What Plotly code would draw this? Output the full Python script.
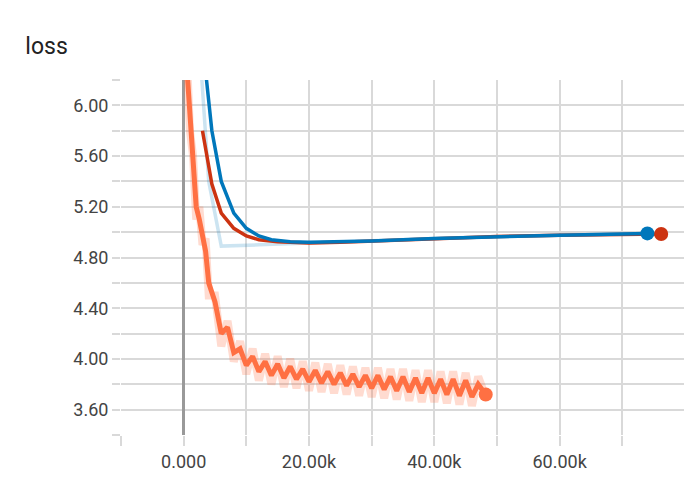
import plotly.graph_objects as go

# loss curves, steps in thousands
blue_x = [3, 4.5, 6, 8, 10, 12, 14, 17, 20, 25, 30, 40, 50, 60, 70, 74]
blue_y = [6.5, 5.8, 5.4, 5.15, 5.03, 4.97, 4.94, 4.925, 4.92, 4.925, 4.93, 4.95, 4.965, 4.975, 4.985, 4.99]
blue_raw_x = [2.5, 4, 6, 8, 12, 20, 25, 30, 40, 50, 60, 70, 74]
blue_raw_y = [6.5, 5.4, 4.89, 4.895, 4.90, 4.915, 4.925, 4.93, 4.95, 4.965, 4.975, 4.985, 4.99]

red_x = [3, 4.5, 6, 8, 10, 12, 15, 20, 25, 30, 40, 50, 60, 70, 76.2]
red_y = [5.8, 5.38, 5.15, 5.03, 4.97, 4.94, 4.925, 4.915, 4.92, 4.93, 4.95, 4.965, 4.975, 4.983, 4.985]

orange_x = [0.5, 1, 1.5, 2, 2.5, 3, 3.5, 4, 5, 6, 7, 8, 9, 10, 11, 12, 13, 14, 15, 16,
            17, 18, 19, 20, 21, 22, 23, 24, 25, 26, 27, 28, 29, 30, 31, 32, 33, 34, 35,
            36, 37, 38, 39, 40, 41, 42, 43, 44, 45, 46, 47, 48.2]
orange_y = [6.3, 5.9, 5.5, 5.2, 5.1, 4.95, 4.85, 4.6, 4.45, 4.2, 4.25, 4.05, 4.08, 3.95,
            4.02, 3.9, 3.98, 3.87, 3.96, 3.85, 3.94, 3.84, 3.92, 3.82, 3.91, 3.81, 3.90,
            3.80, 3.89, 3.79, 3.88, 3.78, 3.87, 3.77, 3.87, 3.76, 3.86, 3.75, 3.86, 3.74,
            3.85, 3.73, 3.85, 3.73, 3.84, 3.72, 3.84, 3.71, 3.83, 3.70, 3.80, 3.72]
orange_raw_y = [6.4, 5.8, 5.6, 5.1, 5.2, 4.9, 4.95, 4.5, 4.5, 4.1, 4.3, 3.98, 4.14, 3.88,
                4.08, 3.83, 4.04, 3.80, 4.02, 3.78, 4.0, 3.77, 3.98, 3.75, 3.97, 3.74, 3.96,
                3.73, 3.95, 3.72, 3.94, 3.71, 3.93, 3.70, 3.93, 3.69, 3.92, 3.68, 3.92, 3.67,
                3.91, 3.66, 3.91, 3.66, 3.90, 3.65, 3.90, 3.64, 3.89, 3.63, 3.86, 3.70]

fig = go.Figure()
fig.add_trace(go.Scatter(x=orange_x, y=orange_raw_y, mode="lines",
                         line=dict(color="rgba(255,112,67,0.25)", width=8)))
fig.add_trace(go.Scatter(x=orange_x, y=orange_y, mode="lines",
                         line=dict(color="#ff7043", width=5)))
fig.add_trace(go.Scatter(x=[orange_x[-1]], y=[orange_y[-1]], mode="markers",
                         marker=dict(color="#ff7043", size=14)))
fig.add_trace(go.Scatter(x=blue_raw_x, y=blue_raw_y, mode="lines",
                         line=dict(color="rgba(0,119,187,0.2)", width=3.5)))
fig.add_trace(go.Scatter(x=red_x, y=red_y, mode="lines",
                         line=dict(color="#cc3311", width=3.5)))
fig.add_trace(go.Scatter(x=[red_x[-1]], y=[red_y[-1]], mode="markers",
                         marker=dict(color="#cc3311", size=14)))
fig.add_trace(go.Scatter(x=blue_x, y=blue_y, mode="lines",
                         line=dict(color="#0077bb", width=3.5)))
fig.add_trace(go.Scatter(x=[blue_x[-1]], y=[blue_y[-1]], mode="markers",
                         marker=dict(color="#0077bb", size=14)))

grid = "#d9d9d9"
fig.update_layout(
    width=692, height=480, showlegend=False,
    paper_bgcolor="white", plot_bgcolor="white",
    margin=dict(l=113, r=15, t=72, b=53),
    font=dict(family="Roboto, Helvetica, Arial, sans-serif", color="#444", size=18),
    title=dict(text="loss", x=0.025, xanchor="left", y=0.92, yanchor="middle",
               font=dict(size=23, color="#222")),
    xaxis=dict(range=[-10, 80], tick0=0, dtick=10, showgrid=True, gridcolor=grid,
               gridwidth=1.5, zeroline=True, zerolinecolor="#999", zerolinewidth=3,
               ticks="outside", ticklen=10, tickcolor=grid, tickwidth=1.5,
               tickvals=[-10, 0, 10, 20, 30, 40, 50, 60, 70, 80],
               ticktext=["", "0.000", "", "20.00k", "", "40.00k", "", "60.00k", "", ""],
               showline=False, automargin=False),
    yaxis=dict(range=[3.4, 6.2], tick0=3.6, dtick=0.4, tickformat=".2f",
               showgrid=True, gridcolor=grid, gridwidth=1.5, zeroline=False,
               ticks="outside", ticklen=8, tickcolor=grid, tickwidth=1.5,
               automargin=False,
               minor=dict(dtick=0.2, tick0=3.4, showgrid=True, gridcolor=grid,
                          gridwidth=1.5, ticks="outside", ticklen=8, tickcolor=grid)),
)
fig.write_html("out.html")
